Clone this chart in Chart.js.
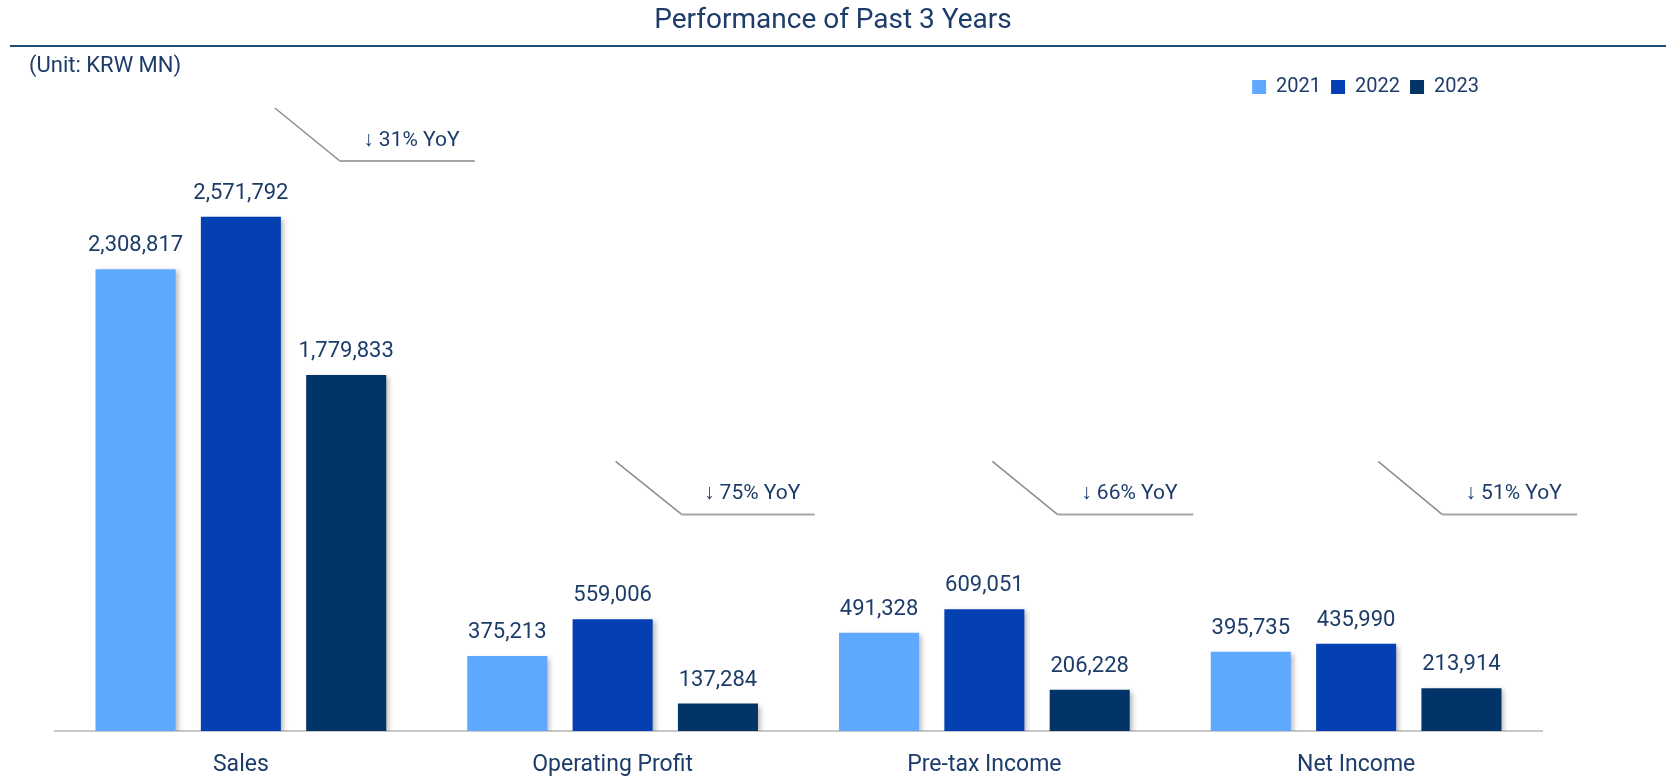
<!DOCTYPE html>
<html>
<head>
<meta charset="utf-8">
<script src="https://cdn.jsdelivr.net/npm/chart.js@4.4.1/dist/chart.umd.min.js"></script>
<style>
  html, body { margin: 0; padding: 0; background: #fff; }
  #wrap { width: 1666px; height: 776px; }
</style>
</head>
<body>
<div id="wrap"><canvas id="perfChart"></canvas></div>
<script>
const categories = ['Sales', 'Operating Profit', 'Pre-tax Income', 'Net Income'];
const years = ['2021', '2022', '2023'];
const values2021 = [2308817, 375213, 491328, 395735];
const values2022 = [2571792, 559006, 609051, 435990];
const values2023 = [1779833, 137284, 206228, 213914];
const yoyLabels = ['↓ 31% YoY', '↓ 75% YoY', '↓ 66% YoY', '↓ 51% YoY'];

const barColors = ['#5ea9ff', '#0540b2', '#023468'];
const textColor = '#1d3c6a';
const fontFamily = 'Roboto, "Noto Sans", sans-serif';

// callout leaders: x offsets from the category centre (px), foot of the leader in value units
const yoyCallouts = [
    { dx0: 34, dx1: 99, dx2: 234, at: 2850000 },
    { dx0: 3, dx1: 69, dx2: 202, at: 1083000 },
    { dx0: 8, dx1: 73, dx2: 209, at: 1083000 },
    { dx0: 22, dx1: 86, dx2: 221, at: 1083000 }
];

const fmt = v => v.toLocaleString('en-US');

const decorations = {
    id: 'decorations',
    afterLayout(chart) {
        // legend sits a bit left of the plot's right edge
        chart.legend.right -= 53;
    },
    beforeDraw(chart) {
        const ctx = chart.ctx;
        ctx.save();
        ctx.fillStyle = textColor;
        ctx.textAlign = 'center';
        ctx.textBaseline = 'alphabetic';
        ctx.font = '28px ' + fontFamily;
        ctx.fillText('Performance of Past 3 Years', chart.width / 2, 28);

        ctx.strokeStyle = '#1f4e79';
        ctx.lineWidth = 2;
        ctx.beginPath();
        ctx.moveTo(10, 46);
        ctx.lineTo(chart.width, 46);
        ctx.stroke();

        ctx.textAlign = 'left';
        ctx.font = '22px ' + fontFamily;
        ctx.fillText('(Unit: KRW MN)', 29, 72);
        ctx.restore();
    },
    beforeDatasetsDraw(chart) {
        const ctx = chart.ctx;
        ctx.save();
        ctx.shadowColor = 'rgba(0, 0, 0, 0.28)';
        ctx.shadowBlur = 5;
        ctx.shadowOffsetX = 3;
        ctx.shadowOffsetY = 2;
    },
    afterDatasetsDraw(chart) {
        const ctx = chart.ctx;
        ctx.restore();

        // value labels over each bar
        ctx.save();
        ctx.fillStyle = textColor;
        ctx.textAlign = 'center';
        ctx.textBaseline = 'alphabetic';
        ctx.font = '22px ' + fontFamily;
        chart.data.datasets.forEach((ds, i) => {
            chart.getDatasetMeta(i).data.forEach((bar, j) => {
                ctx.fillText(fmt(ds.data[j]), bar.x, bar.y - 18);
            });
        });

        // YoY callouts
        const xs = chart.scales.x;
        const ys = chart.scales.y;
        yoyCallouts.forEach((c, j) => {
            const cx = xs.getPixelForValue(j);
            const foot = ys.getPixelForValue(c.at);
            ctx.strokeStyle = '#8c8c8c';
            ctx.lineWidth = 1.5;
            ctx.beginPath();
            ctx.moveTo(cx + c.dx0, foot - 53);
            ctx.lineTo(cx + c.dx1, foot);
            ctx.stroke();
            ctx.strokeStyle = '#a6a6a6';
            ctx.lineWidth = 2;
            ctx.beginPath();
            ctx.moveTo(cx + c.dx1, foot);
            ctx.lineTo(cx + c.dx2, foot);
            ctx.stroke();
            ctx.font = '21px ' + fontFamily;
            ctx.fillText(yoyLabels[j], cx + (c.dx1 + c.dx2) / 2 + 4, foot - 15);
        });
        ctx.restore();
    }
};

const ctx = document.getElementById('perfChart').getContext('2d');
new Chart(ctx, {
    type: 'bar',
    data: {
        labels: categories,
        datasets: [values2021, values2022, values2023].map((vals, i) => ({
            label: years[i],
            data: vals,
            backgroundColor: barColors[i],
            borderWidth: 0,
            categoryPercentage: 0.85,
            barPercentage: 0.76
        }))
    },
    options: {
        responsive: true,
        maintainAspectRatio: false,
        animation: false,
        layout: {
            padding: { top: 67, left: 55, right: 124, bottom: 0 }
        },
        scales: {
            x: {
                grid: { display: false, drawTicks: false },
                border: { display: true, color: '#c8c8c8', width: 2 },
                ticks: {
                    padding: 20,
                    color: textColor,
                    font: { family: fontFamily, size: 23 }
                },
                afterFit(scale) {
                    scale.height = 45;
                }
            },
            y: {
                display: false,
                min: 0,
                max: 3120000
            }
        },
        plugins: {
            legend: {
                position: 'top',
                align: 'end',
                labels: {
                    boxWidth: 14,
                    boxHeight: 14,
                    padding: 10,
                    color: textColor,
                    font: { family: fontFamily, size: 20 }
                }
            },
            tooltip: { enabled: false }
        }
    },
    plugins: [decorations]
});
</script>
</body>
</html>
